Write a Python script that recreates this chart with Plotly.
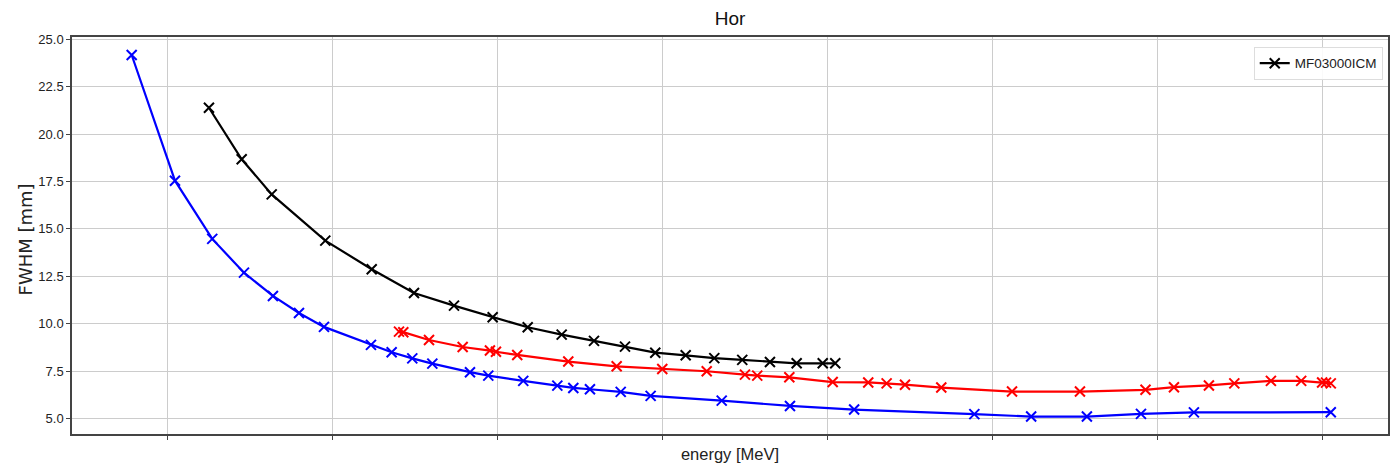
import plotly.graph_objects as go

# energy values (arbitrary units, tick labels hidden in reference)
blue_x = [55.60, 60.85, 65.37, 69.22, 72.73, 75.89, 78.92, 84.62, 87.13, 89.63, 92.06,
          96.63, 98.85, 103.09, 107.22, 109.16, 111.18, 114.91, 118.54, 127.16, 135.44,
          143.22, 157.80, 164.69, 171.45, 178.01, 184.43, 201.03]
blue_y = [24.17, 17.54, 14.47, 12.69, 11.46, 10.56, 9.83, 8.88, 8.49, 8.17, 7.89,
          7.44, 7.26, 6.98, 6.73, 6.61, 6.54, 6.40, 6.19, 5.94, 5.66,
          5.47, 5.23, 5.10, 5.10, 5.24, 5.32, 5.33]

black_x = [64.97, 68.94, 72.58, 79.08, 84.71, 89.84, 94.69, 99.38, 103.63, 107.75,
           111.67, 115.43, 119.10, 122.79, 126.26, 129.65, 133.01, 136.25, 139.41, 140.93]
black_y = [21.39, 18.67, 16.82, 14.38, 12.87, 11.62, 10.95, 10.34, 9.81, 9.42,
           9.09, 8.79, 8.47, 8.33, 8.18, 8.09, 7.98, 7.91, 7.91, 7.91]

red_x = [88.02, 88.54, 91.66, 95.74, 99.05, 99.78, 102.36, 108.55, 114.42, 119.95,
         125.34, 129.98, 131.47, 135.36, 140.62, 144.93, 147.16, 149.39, 153.79, 162.37,
         170.61, 178.56, 182.01, 186.25, 189.33, 193.77, 197.44, 199.98, 200.45, 201.03]
red_y = [9.58, 9.55, 9.14, 8.77, 8.58, 8.52, 8.35, 8.00, 7.75, 7.61,
         7.49, 7.31, 7.26, 7.17, 6.92, 6.90, 6.85, 6.78, 6.63, 6.42,
         6.42, 6.51, 6.65, 6.74, 6.85, 6.98, 6.98, 6.90, 6.89, 6.85]

x_ticks = [60, 80, 100, 120, 140, 160, 180, 200]
y_ticks = [5.0, 7.5, 10.0, 12.5, 15.0, 17.5, 20.0, 22.5, 25.0]
y_tick_labels = ["5.0", "7.5", "10.0", "12.5", "15.0", "17.5", "20.0", "22.5", "25.0"]

SANS = "Liberation Sans, Arial, sans-serif"

def mk(color):
    return dict(symbol="x-thin", size=10, color=color, line=dict(width=2, color=color))

fig = go.Figure()
fig.add_trace(go.Scatter(x=blue_x, y=blue_y, mode="lines+markers", name="blue",
                         line=dict(color="#0000ff", width=2.2), marker=mk("#0000ff"),
                         showlegend=False))
fig.add_trace(go.Scatter(x=red_x, y=red_y, mode="lines+markers", name="red",
                         line=dict(color="#ff0000", width=2.2), marker=mk("#ff0000"),
                         showlegend=False))
fig.add_trace(go.Scatter(x=black_x, y=black_y, mode="lines+markers", name="MF03000ICM",
                         line=dict(color="#000000", width=2.2), marker=mk("#000000")))

axis_common = dict(showline=True, linecolor="#444444", linewidth=1.5, mirror=True,
                   showgrid=True, gridcolor="#cccccc", gridwidth=1.2,
                   ticks="outside", ticklen=4, tickcolor="#444444", zeroline=False,
                   automargin=False)

fig.update_layout(
    width=1396, height=470,
    margin=dict(l=72, r=8, t=37, b=36),
    paper_bgcolor="white", plot_bgcolor="white",
    font=dict(family=SANS, size=13, color="#222222"),
    title=dict(text="Hor", x=0.5, xanchor="center", xref="paper",
               y=1 - 18 / 470, yref="container", yanchor="middle",
               font=dict(family=SANS, size=19, color="#111111")),
    xaxis=dict(range=[48.36, 207.97], tickvals=x_ticks, showticklabels=False,
               title=dict(text="energy [MeV]", font=dict(family=SANS, size=16.5, color="#222222"),
                          standoff=10), **axis_common),
    yaxis=dict(range=[4.18, 25.12], tickvals=y_ticks, ticktext=y_tick_labels,
               tickfont=dict(family=SANS, size=13, color="#222222"),
               **axis_common),
    legend=dict(x=0.996, y=0.975, xanchor="right", yanchor="top", itemwidth=30,
                bgcolor="rgba(255,255,255,0.9)", bordercolor="#dddddd", borderwidth=1,
                font=dict(family=SANS, size=13.5, color="#222222")),
    annotations=[dict(text="FWHM [mm]", textangle=-90, xref="paper", yref="paper",
                      x=0, y=0.49, xanchor="center", yanchor="middle", xshift=-47,
                      showarrow=False,
                      font=dict(family="DejaVu Sans", size=18, color="#222222"))],
)

fig.write_html("out.html")
